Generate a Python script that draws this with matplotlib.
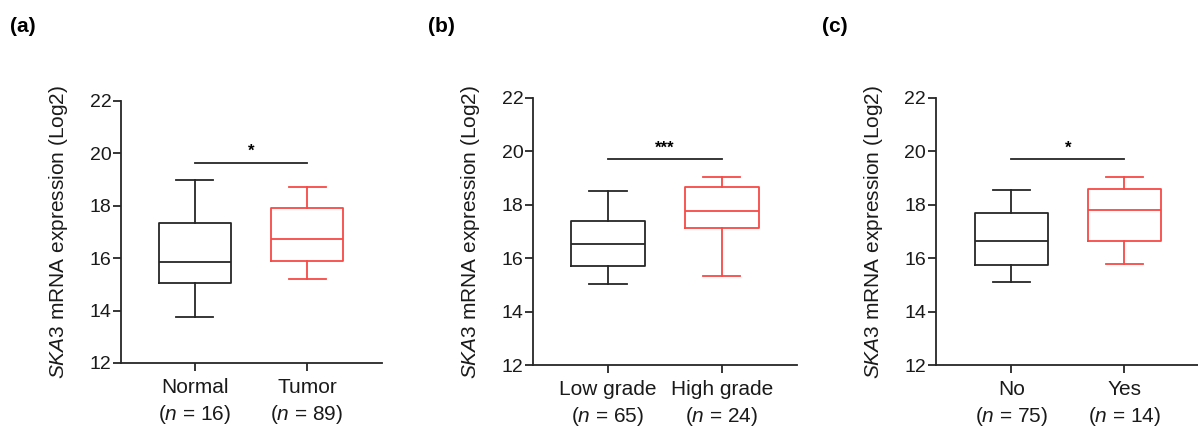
import matplotlib
matplotlib.use("Agg")
import matplotlib.pyplot as plt

plt.rcParams['font.family'] = ['Liberation Sans', 'DejaVu Sans']
plt.rcParams['mathtext.fontset'] = 'custom'
plt.rcParams['mathtext.rm'] = 'Liberation Sans'
plt.rcParams['mathtext.it'] = 'Liberation Sans:italic'
plt.rcParams['mathtext.bf'] = 'Liberation Sans:bold'

panel_letters = ['(a)', '(b)', '(c)']
categories = [['Normal', 'Tumor'], ['Low grade', 'High grade'], ['No', 'Yes']]
counts = [[16, 89], [65, 24], [75, 14]]
# per group: whisker low, q1, median, q3, whisker high
stats = [
    [[13.75, 15.05, 15.85, 17.35, 19.0], [15.2, 15.9, 16.75, 17.9, 18.7]],
    [[15.05, 15.7, 16.55, 17.4, 18.5], [15.35, 17.15, 17.75, 18.65, 19.05]],
    [[15.1, 15.75, 16.65, 17.7, 18.55], [15.8, 16.65, 17.8, 18.6, 19.05]],
]
significance = ['*', '***', '*']
sig_y = [19.65, 19.7, 19.7]
y_ticks = [12, 14, 16, 18, 20, 22]

colors = ['#262626', '#f84a45']

fig = plt.figure(figsize=(11.98, 4.26), dpi=100)
ax_rects = [
    [0.101, 0.148, 0.218, 0.615],
    [0.445, 0.143, 0.220, 0.627],
    [0.781, 0.143, 0.219, 0.627],
]
xlims = [(0.34, 2.67), (0.34, 2.66), (0.33, 2.65)]
letter_x = [0.008, 0.357, 0.686]

for i in range(3):
    ax = fig.add_axes(ax_rects[i])
    for j, s in enumerate(stats[i]):
        st = dict(whislo=s[0], q1=s[1], med=s[2], q3=s[3], whishi=s[4], fliers=[], label='')
        c = colors[j]
        ax.bxp([st], positions=[j + 1], widths=0.65, showfliers=False,
               boxprops=dict(color=c, linewidth=1.3),
               whiskerprops=dict(color=c, linewidth=1.3),
               capprops=dict(color=c, linewidth=1.3),
               medianprops=dict(color=c, linewidth=1.3),
               capwidths=0.33)
    ax.set_xlim(*xlims[i])
    ax.set_ylim(12, 22)
    ax.set_yticks(y_ticks)
    ax.set_yticklabels([str(t) for t in y_ticks], fontsize=14)
    ax.set_xticks([1, 2])
    ax.set_xticklabels([f"{categories[i][k]}\n($\\it{{n}}$ = {counts[i][k]})" for k in range(2)],
                       fontsize=15, linespacing=1.35)
    for sp in ['top', 'right']:
        ax.spines[sp].set_visible(False)
    for sp in ['left', 'bottom']:
        ax.spines[sp].set_linewidth(1.3)
        ax.spines[sp].set_color('#262626')
    ax.tick_params(axis='both', direction='out', length=6, width=1.3, color='#262626',
                   labelcolor='#1a1a1a', pad=1)
    ax.tick_params(axis='x', pad=5)
    ax.set_ylabel(r'$\it{SKA3}$ mRNA expression (Log2)', fontsize=15, labelpad=14, color='#1a1a1a')
    ax.plot([1, 2], [sig_y[i], sig_y[i]], color='#262626', linewidth=1.3, clip_on=False)
    ax.text(1.5, sig_y[i] + 0.15, significance[i], ha='center', va='bottom', fontsize=12, fontweight='bold')
    fig.text(letter_x[i], 0.937, panel_letters[i], fontsize=15, fontweight='bold', ha='left', va='center')

fig.savefig('out.png', dpi=100)
